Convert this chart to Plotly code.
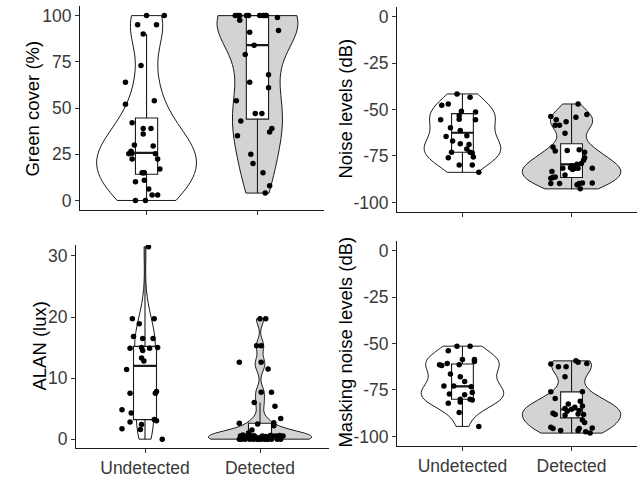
import numpy as np
import plotly.graph_objects as go

categories = ["Undetected", "Detected"]

# ---- Green cover (%) ----
green_und = [100, 100, 95, 95, 90, 73, 64, 52, 54, 42, 39, 39, 36, 30, 29.5, 26.7, 25.3, 25.6,
             25.3, 22.4, 22.4, 17, 15, 15, 15, 10.2, 10.9, 6.2, 3, 3, 0, 0]
green_und_jit = [0.00, 0.16, -0.08, 0.09, -0.03, -0.05, -0.19, -0.19, 0.07, -0.13, -0.03, 0.04, -0.03, -0.11,
                 0.06, -0.14, -0.16, -0.13, 0.08, -0.13, 0.10, 0.12, -0.04, -0.02, -0.03, -0.10, -0.02,
                 0.02, 0.10, 0.05, -0.10, -0.01]
green_det = [100, 100, 100, 100, 100, 100, 100, 100, 100, 97.5, 99, 92, 91, 79, 84, 68, 61, 64, 54,
             47, 47, 43, 39, 37, 35, 25, 20, 15, 8, 4]
green_det_jit = [-0.20, -0.18, -0.16, -0.10, -0.08, 0.02, 0.05, 0.07, 0.08, -0.16, 0.18, 0.19, -0.07, -0.11,
                 -0.03, 0.10, 0.10, -0.07, -0.19, -0.02, 0.04, -0.15, 0.13, 0.11, -0.18, -0.06, -0.04,
                 0.05, 0.11, 0.07]
# box stats per group: q1, median, q3, lower whisker end, upper whisker end
green_box = [[14.2, 25.8, 44.6, 0, 90], [44, 84, 100, 4, 100]]

# ---- Noise levels (dB) ----
noise_und = [-41.6, -43.4, -47, -47.7, -50.9, -51.3, -53.4, -55.2, -55.5, -55.5, -59.8, -61.3, -64.1,
             -64.5, -67, -68.4, -68.8, -71.3, -73, -73, -73.4, -75.5, -75.9, -79.8, -79.8, -83.8]
noise_und_jit = [-0.05, 0.07, -0.13, -0.19, -0.01, 0.12, -0.03, -0.03, -0.20, 0.12, -0.11, -0.02, 0.04,
                 -0.15, -0.09, -0.02, 0.06, 0.04, -0.10, 0.07, 0.09, 0.10, -0.13, -0.03, 0.09, 0.15]
noise_det = [-47, -53.8, -54.1, -52.7, -55.5, -58.4, -56.6, -58.4, -62.7, -70.2, -72.3, -72, -71.6, -73,
             -75.9, -77.3, -79, -79.5, -80.2, -81.6, -81.3, -81.6, -81.6, -81.6, -83.4, -86.6, -87,
             -86.3, -85.2, -82.3, -89.8, -89.8, -89.8, -89.5, -89.5, -92.7, -90.5]
noise_det_jit = [0.06, -0.19, 0.04, 0.14, -0.14, -0.11, -0.05, -0.15, -0.06, -0.17, -0.15, -0.04, 0.07, 0.12,
                 0.12, 0.11, 0.09, 0.05, 0.00, -0.08, -0.01, 0.03, 0.06, 0.19, -0.18, -0.17, -0.19,
                 -0.15, -0.06, 0.01, -0.19, -0.11, 0.07, 0.10, 0.19, 0.08, 0.05]
noise_box = [[-73, -62.5, -52.2, -83.8, -41.6], [-86.6, -79.5, -68.4, -93, -47]]

# ---- ALAN (lux) ----
alan_und = [31.5, 19.7, 19.7, 18.9, 16.8, 16.5, 16.5, 14.9, 15.0, 14.5, 14.9, 15.0, 13.3, 12.8, 11.4,
            7.5, 7.8, 7.5, 4.8, 4.3, 3.2, 3.0, 2.8, 2.4, 1.6, 1.7, 0.0]
alan_und_jit = [0.03, -0.11, 0.08, -0.05, -0.10, -0.02, 0.07, -0.13, -0.03, -0.02, 0.04, 0.11, -0.03, -0.01,
                -0.16, -0.13, 0.10, 0.09, -0.20, -0.12, 0.08, 0.10, -0.13, -0.03, -0.04, -0.20, 0.15]
alan_det = [19.7, 19.7, 15.3, 15.3, 12.6, 12.6, 11.5, 7.7, 7.7, 6.0, 5.4, 3.4,
            2.6, 2.5, 2.7, 2.2, 1.5, 1.0, 0.8, 0.7,
            0.5, 0.4, 0.5, 0.5, 0.45, 0.55, 0.5, 0.6, 0.45, 0.55, 0.5, 0.6,
            0, 0, 0, 0, 0, 0, 0, 0, 0, 0, 0, 0, 0, 0]
alan_det_jit = [0.00, 0.05, -0.03, 0.01, -0.18, 0.01, 0.07, 0.01, 0.10, -0.05, 0.13, 0.18,
                -0.18, -0.02, 0.12, 0.12, -0.07, -0.10, -0.10, -0.15,
                0.20, 0.08, 0.11, 0.02, -0.12, -0.05, 0.14, 0.17, 0.05, -0.08, -0.17, 0.09,
                -0.18, -0.13, -0.09, -0.06, -0.03, -0.01, 0.01, 0.04, 0.07, 0.10, 0.18, -0.16, 0.06, 0.15]
alan_box = [[3.2, 12.0, 15.2, 0, 31.5], [0.35, 0.5, 2.6, 0, 6.0]]

# ---- Masking noise levels (dB) ----
mask_und = [-51.4, -51.4, -53.9, -58.6, -58.6, -59.6, -61.4, -61.8, -60.7, -61.4, -66.4, -67.9, -70.4,
            -72.9, -72.9, -73.2, -76.4, -77.1, -77.5, -80.0, -80.0, -80.4, -81.4, -82.1, -87.1, -94.6]
mask_und_jit = [-0.05, 0.07, -0.13, 0.00, 0.11, 0.11, -0.21, -0.19, -0.14, -0.03, -0.11, -0.02, 0.02,
                -0.17, -0.08, 0.08, 0.09, -0.12, 0.02, -0.02, 0.07, 0.09, -0.02, -0.13, -0.03, 0.15]
mask_det = [-61.0, -59.3, -60.0, -60.7, -62.5, -62.5, -67.9, -76.0, -76.0, -79.6, -81.0, -82.5, -84.3,
            -85.0, -83.6, -85.4, -86.4, -86.1, -87.9, -88.2, -87.5, -88.2, -88.6, -91.1, -92.5, -95.0,
            -95.7, -96.8, -95.7, -97.5, -98.2, -95.4, -96.8]
mask_det_jit = [-0.19, 0.04, 0.06, 0.14, -0.12, -0.05, -0.06, -0.19, 0.10, -0.15, 0.08, -0.03, 0.03,
                -0.06, 0.10, 0.00, -0.04, 0.07, 0.06, 0.11, -0.17, -0.15, -0.06, 0.10, 0.12, -0.19,
                -0.17, -0.10, 0.07, 0.13, 0.17, 0.19, 0.06]
mask_box = [[-80, -73, -61, -94.6, -51.4], [-90, -85.5, -76, -98.2, -59.3]]

panels = [
    dict(title="Green cover (%)", und=(green_und, green_und_jit), det=(green_det, green_det_jit), box=green_box,
         yrange=[-5, 105], ticks=[0, 25, 50, 75, 100], ticktext=["0", "25", "50", "75", "100"]),
    dict(title="Noise levels (dB)", und=(noise_und, noise_und_jit), det=(noise_det, noise_det_jit), box=noise_box,
         yrange=[-105, 5], ticks=[-100, -75, -50, -25, 0], ticktext=["-100", "-75", "-50", "-25", "0"]),
    dict(title="ALAN (lux)", und=(alan_und, alan_und_jit), det=(alan_det, alan_det_jit), box=alan_box,
         yrange=[-1.5, 31.8], ticks=[0, 10, 20, 30], ticktext=["0", "10", "20", "30"]),
    dict(title="Masking noise levels (dB)", und=(mask_und, mask_und_jit), det=(mask_det, mask_det_jit), box=mask_box,
         yrange=[-105, 5], ticks=[-100, -75, -50, -25, 0], ticktext=["-100", "-75", "-50", "-25", "0"]),
]

W, H = 642, 478
# pixel layout: (x_left, x_right, y_top, y_bottom), title x, title y
geom = [
    ((80, 324, 5.4, 209.6), 33, 108),
    ((397, 637, 6.4, 211.6), 346, 108),
    ((76, 329, 245, 449.2), 40, 347),
    ((397, 637, 241.4, 446.6), 346, 342),
]
fills = ["white", "#D3D3D3"]
INK = "#1a1a1a"


def nrd0(v):
    v = np.asarray(v, float)
    sd = v.std(ddof=1)
    iqr = np.subtract(*np.percentile(v, [75, 25]))
    lo = min(sd, iqr / 1.34) if iqr > 0 else sd
    return 0.9 * lo * len(v) ** (-0.2)


def max_kde(v, bw):
    v = np.asarray(v, float)
    grid = np.linspace(v.min(), v.max(), 512)
    d = np.exp(-0.5 * ((grid[:, None] - v[None, :]) / bw) ** 2).sum(axis=1) / (len(v) * bw * np.sqrt(2 * np.pi))
    return d.max()


fig = go.Figure()
layout = dict(width=W, height=H, margin=dict(l=0, r=0, t=0, b=0), paper_bgcolor="white",
              plot_bgcolor="white", showlegend=False, violinmode="overlay", boxmode="overlay",
              font=dict(family="Liberation Sans, Arial, sans-serif", color="black"), annotations=[])

for i, p in enumerate(panels):
    sfx = "" if i == 0 else str(i + 1)
    xa, ya = "x" + sfx, "y" + sfx
    groups = [p["und"], p["det"]]
    bws = [nrd0(g[0]) for g in groups]
    mk = [max_kde(g[0], b) for g, b in zip(groups, bws)]
    for j, (g, bw) in enumerate(zip(groups, bws)):
        vals, jit = g
        fig.add_trace(go.Violin(y=vals, x0=j, width=0.9 * mk[j] / max(mk), bandwidth=bw, spanmode="hard",
                                scalemode="width", points=False, fillcolor=fills[j], opacity=1,
                                line=dict(color=INK, width=1), box_visible=False,
                                meanline_visible=False, hoverinfo="skip", xaxis=xa, yaxis=ya))
    for j in range(2):
        q1, med, q3, lf, uf = p["box"][j]
        fig.add_trace(go.Box(x=[j], q1=[q1], median=[med], q3=[q3], lowerfence=[lf], upperfence=[uf],
                             width=0.2, fillcolor="white", line=dict(color=INK, width=1.1),
                             whiskerwidth=0, boxpoints=False, hoverinfo="skip", xaxis=xa, yaxis=ya))
        # thicker median bar (ggplot fatten)
        fig.add_trace(go.Box(x=[j], q1=[med], median=[med], q3=[med], lowerfence=[med], upperfence=[med],
                             width=0.2, fillcolor="rgba(0,0,0,0)", line=dict(color=INK, width=2.2),
                             whiskerwidth=0, boxpoints=False, hoverinfo="skip", xaxis=xa, yaxis=ya))
    for j, g in enumerate(groups):
        vals, jit = g
        fig.add_trace(go.Scatter(x=[j + o for o in jit], y=vals, mode="markers",
                                 marker=dict(color="black", size=5.5), hoverinfo="skip",
                                 xaxis=xa, yaxis=ya))
    (xl, xr, yt, yb), tx, ty = geom[i]
    bottom = i >= 2
    layout["xaxis" + sfx] = dict(domain=[xl / W, xr / W], anchor=ya, range=[-0.6, 1.6], tickvals=[0, 1],
                                 ticktext=categories, showticklabels=bottom, showline=True, linecolor=INK,
                                 linewidth=1, ticks="outside", ticklen=4, tickcolor="#333333", showgrid=False,
                                 zeroline=False, tickfont=dict(size=17.5, color="#3a3a3a"))
    layout["yaxis" + sfx] = dict(domain=[1 - yb / H, 1 - yt / H], anchor=xa, range=p["yrange"],
                                 tickvals=p["ticks"], ticktext=p["ticktext"], showline=True,
                                 linecolor=INK, linewidth=1, ticks="outside", ticklen=4,
                                 tickcolor="#333333", showgrid=False, zeroline=False,
                                 tickfont=dict(size=17.5, color="#3a3a3a"))
    layout["annotations"].append(dict(text=p["title"], xref="paper", yref="paper", x=tx / W, y=1 - ty / H,
                                      textangle=-90, showarrow=False, xanchor="center", yanchor="middle",
                                      font=dict(size=18.5, color="black")))

fig.update_layout(**layout)
fig.write_html("out.html", config={"displayModeBar": False},
               post_script="document.body.style.margin='0';document.body.style.overflow='hidden';")
